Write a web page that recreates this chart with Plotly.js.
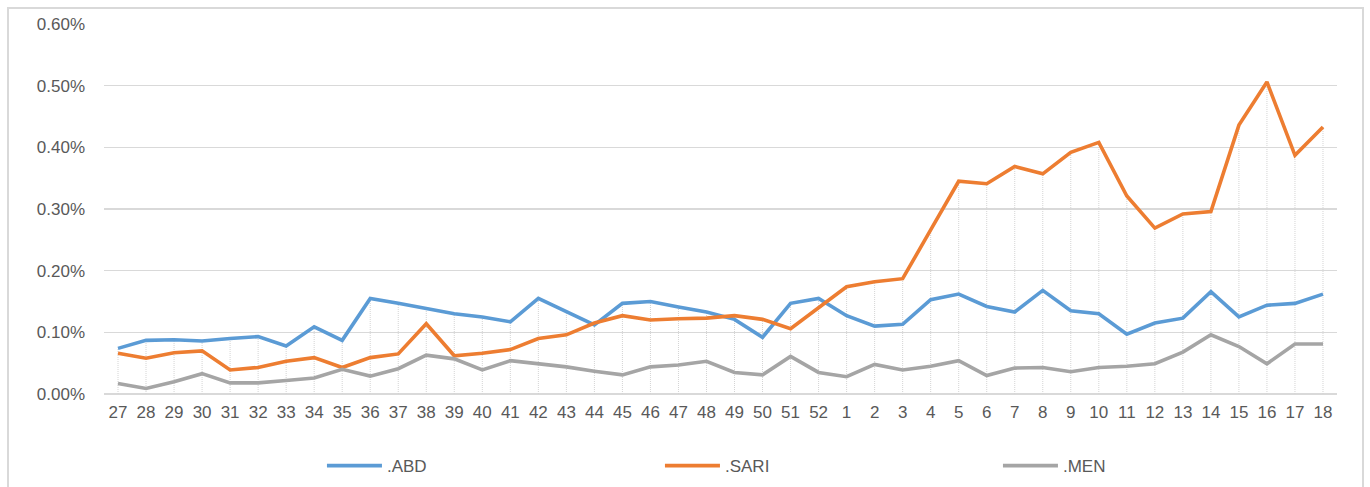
<!DOCTYPE html>
<html>
<head>
<meta charset="utf-8">
<script src="https://cdn.plot.ly/plotly-3.0.1.min.js"></script>
<style>
  html, body { margin: 0; padding: 0; background: #ffffff; }
  #chart { position: absolute; left: 0; top: 0; width: 1370px; height: 487px; }
  #frame { position: absolute; left: 7px; top: 7px; width: 1357px; height: 520px;
           border: 2px solid #d9d9d9; pointer-events: none; box-sizing: border-box; }
</style>
</head>
<body>
<div id="chart"></div>
<div id="frame"></div>
<script>
// Week labels (categories)
const weeks = ['27','28','29','30','31','32','33','34','35','36','37','38','39','40','41','42','43','44','45','46','47','48','49','50','51','52',
               '1','2','3','4','5','6','7','8','9','10','11','12','13','14','15','16','17','18'];

// Series values, in percent
const abd  = [0.074,0.087,0.088,0.086,0.090,0.093,0.078,0.109,0.087,0.155,0.147,0.138,0.130,0.125,0.117,0.155,0.134,0.112,0.147,0.150,0.141,0.133,0.121,0.092,0.147,0.155,
              0.127,0.110,0.113,0.153,0.162,0.142,0.133,0.168,0.135,0.130,0.097,0.115,0.123,0.166,0.125,0.144,0.147,0.162];
const sari = [0.066,0.058,0.067,0.070,0.039,0.043,0.053,0.059,0.043,0.059,0.065,0.114,0.062,0.066,0.072,0.090,0.096,0.115,0.127,0.120,0.122,0.123,0.127,0.121,0.106,0.140,
              0.174,0.182,0.187,0.266,0.345,0.341,0.369,0.357,0.392,0.408,0.321,0.269,0.292,0.296,0.436,0.506,0.387,0.433];
const men  = [0.017,0.009,0.020,0.033,0.018,0.018,0.022,0.026,0.040,0.029,0.041,0.063,0.057,0.039,0.054,0.049,0.044,0.037,0.031,0.044,0.047,0.053,0.035,0.031,0.061,0.035,
              0.028,0.048,0.039,0.045,0.054,0.030,0.042,0.043,0.036,0.043,0.045,0.049,0.068,0.096,0.077,0.049,0.081,0.081];

const seriesNames = ['.ABD', '.SARI', '.MEN'];
const seriesColors = ['#5B9BD5', '#ED7D31', '#A5A5A5'];

// Drop lines from the highest series value down to the axis
const dropX = [], dropY = [];
weeks.forEach((w, i) => {
  const top = Math.max(abd[i], sari[i], men[i]);
  dropX.push(w, w, null);
  dropY.push(0, top, null);
});

const traces = [
  {
    x: dropX, y: dropY, type: 'scatter', mode: 'lines',
    line: { color: '#d4d4d4', width: 1, dash: '1px,1px' },
    hoverinfo: 'skip', showlegend: false
  }
];
[abd, sari, men].forEach((vals, k) => {
  traces.push({
    x: weeks, y: vals, type: 'scatter', mode: 'lines', name: seriesNames[k],
    line: { color: seriesColors[k], width: 3.6, shape: 'linear' }
  });
});

const layout = {
  width: 1370, height: 487,
  margin: { l: 104, r: 33, t: 24, b: 93, pad: 0 },
  paper_bgcolor: '#ffffff', plot_bgcolor: '#ffffff',
  font: { family: 'Liberation Sans, Arial, sans-serif', size: 17, color: '#595959' },
  showlegend: true,
  legend: {
    orientation: 'h', xref: 'container', yref: 'container',
    x: 0.235, xanchor: 'left', y: 0.043, yanchor: 'middle',
    font: { size: 17, color: '#595959' },
    entrywidth: 268, entrywidthmode: 'pixels', itemwidth: 55,
    traceorder: 'normal', bgcolor: 'rgba(0,0,0,0)'
  },
  xaxis: {
    type: 'category', categoryorder: 'array', categoryarray: weeks,
    showgrid: false, zeroline: false, showline: false, automargin: false,
    ticks: '', ticklabelstandoff: 6, tickfont: { size: 17, color: '#595959' },
    range: [-0.5, weeks.length - 0.5], fixedrange: true
  },
  yaxis: {
    range: [0, 0.6], dtick: 0.1, tickformat: '.2f', ticksuffix: '%',
    showgrid: true, gridcolor: '#d9d9d9', gridwidth: 1.5,
    zeroline: true, zerolinecolor: '#d9d9d9', zerolinewidth: 1.5,
    showline: false, ticks: '', ticklabelstandoff: 18, automargin: false,
    tickfont: { size: 17, color: '#595959' }, fixedrange: true
  }
};

Plotly.newPlot('chart', traces, layout, { displayModeBar: false, staticPlot: true });
</script>
</body>
</html>
